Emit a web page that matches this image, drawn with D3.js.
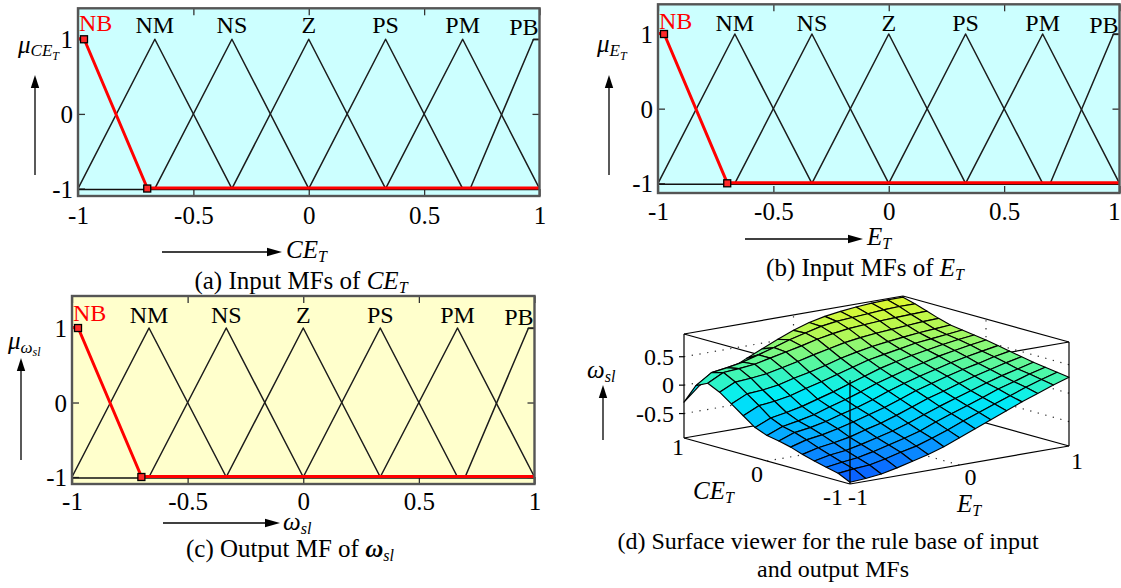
<!DOCTYPE html>
<html>
<head>
<meta charset="utf-8">
<title>Fuzzy membership functions and rule surface</title>
<script src="https://cdn.jsdelivr.net/npm/d3@7/dist/d3.min.js"></script>
<style>
  html, body { margin: 0; padding: 0; background: #ffffff; }
  svg { display: block; }
  text { font-family: "Liberation Serif", "Times New Roman", Times, serif; fill: #000; }
</style>
</head>
<body>
<svg id="fig" width="1121" height="588" viewBox="0 0 1121 588"></svg>
<script>
// ---------- membership functions (same partition for CE_T, E_T and omega_sl) ----------
const mfNames   = ["NB", "NM", "NS", "Z", "PS", "PM", "PB"];
const mfCenters = [-1, -0.667, -0.333, 0, 0.333, 0.667, 1];
const mfBreakX = [
  [-1, -0.974, -0.70, 1],
  [-1, -0.667, -0.333],
  [-0.667, -0.333, 0],
  [-0.333, 0, 0.333],
  [0, 0.333, 0.667],
  [0.333, 0.667, 1],
  [0.70, 0.974, 1]
];
const mfBreakY = [
  [1, 1, -1, -1],
  [-1, 1, -1],
  [-1, 1, -1],
  [-1, 1, -1],
  [-1, 1, -1],
  [-1, 1, -1],
  [-1, 1, 1]
];
const highlightedMF = 0;          // NB is the selected function
const handleIdx = [1, 2];         // its editable breakpoints
const universeTicks = [-1, -0.5, 0, 0.5, 1];
const gradeTicks = [-1, 0, 1];
const gradeFloor = -1;

// ---------- rule-base surface omega_sl(CE_T, E_T) ----------
const ceGrid = [-1, -0.857, -0.714, -0.571, -0.429, -0.286, -0.143, 0, 0.143, 0.286, 0.429, 0.571, 0.714, 0.857, 1];
const eGrid  = [-1, -0.857, -0.714, -0.571, -0.429, -0.286, -0.143, 0, 0.143, 0.286, 0.429, 0.571, 0.714, 0.857, 1];
// rows: CE_T from -1 to 1, columns: E_T from -1 to 1
const omegaSurface = [
  [-0.90,-0.88,-0.85,-0.79,-0.72,-0.65,-0.56,-0.45,-0.34,-0.23,-0.12,-0.01,0.09,0.19,0.28],
  [-0.80,-0.77,-0.75,-0.69,-0.62,-0.56,-0.47,-0.37,-0.26,-0.16,-0.06,0.04,0.14,0.23,0.31],
  [-0.75,-0.71,-0.68,-0.62,-0.55,-0.48,-0.40,-0.29,-0.19,-0.10,0.00,0.10,0.18,0.27,0.34],
  [-0.70,-0.64,-0.61,-0.55,-0.48,-0.41,-0.32,-0.22,-0.12,-0.03,0.06,0.15,0.23,0.30,0.37],
  [-0.64,-0.57,-0.53,-0.48,-0.40,-0.33,-0.24,-0.14,-0.04,0.04,0.13,0.21,0.28,0.35,0.41],
  [-0.57,-0.49,-0.45,-0.39,-0.32,-0.24,-0.16,-0.06,0.04,0.12,0.20,0.27,0.33,0.40,0.45],
  [-0.52,-0.42,-0.38,-0.32,-0.24,-0.17,-0.08,0.02,0.11,0.19,0.26,0.33,0.39,0.44,0.49],
  [-0.48,-0.37,-0.32,-0.26,-0.17,-0.09,0.00,0.10,0.18,0.26,0.32,0.39,0.44,0.49,0.53],
  [-0.40,-0.28,-0.23,-0.17,-0.09,-0.01,0.08,0.17,0.26,0.33,0.39,0.44,0.49,0.53,0.56],
  [-0.25,-0.12,-0.09,-0.04,0.04,0.11,0.19,0.27,0.35,0.40,0.45,0.50,0.53,0.56,0.59],
  [-0.10,0.03,0.05,0.09,0.16,0.22,0.29,0.37,0.43,0.48,0.52,0.55,0.58,0.60,0.62],
  [0.05,0.18,0.20,0.23,0.29,0.35,0.42,0.48,0.54,0.58,0.61,0.63,0.65,0.67,0.68],
  [0.15,0.29,0.31,0.34,0.40,0.46,0.52,0.59,0.64,0.68,0.70,0.72,0.73,0.74,0.75],
  [0.05,0.23,0.27,0.32,0.40,0.48,0.57,0.64,0.71,0.75,0.77,0.79,0.81,0.82,0.82],
  [-0.30,-0.05,0.05,0.15,0.28,0.40,0.52,0.63,0.72,0.78,0.82,0.85,0.87,0.88,0.88]
];
const surfTicksZ  = [-0.5, 0, 0.5];
const surfTicksCE = [1, 0, -1];
const surfTicksE  = [-1, 0, 1];

// ---------------------------------------------------------------------------
const svg = d3.select("#fig");
const FIG_W = 1121;

function richText(parent, x, y, parts, anchor) {
  const t = parent.append("text").attr("x", x).attr("y", y)
    .attr("text-anchor", anchor || "start");
  parts.forEach(p => {
    t.append("tspan").text(p.t)
      .attr("font-size", p.size)
      .attr("dy", p.dy || 0)
      .attr("font-style", p.italic ? "italic" : "normal")
      .attr("font-weight", p.bold ? "bold" : "normal");
  });
  return t;
}

function arrow(g, x1, y1, x2, y2, headLen, headHalf) {
  headLen = headLen || 14; headHalf = headHalf || 4.5;
  const ang = Math.atan2(y2 - y1, x2 - x1);
  const bx = x2 - headLen * Math.cos(ang), by = y2 - headLen * Math.sin(ang);
  g.append("line").attr("x1", x1).attr("y1", y1).attr("x2", bx).attr("y2", by)
    .attr("stroke", "#000").attr("stroke-width", 1.3);
  const px = -Math.sin(ang) * headHalf, py = Math.cos(ang) * headHalf;
  g.append("path").attr("d", `M${x2},${y2}L${bx + px},${by + py}L${bx - px},${by - py}Z`)
    .attr("fill", "#000");
}

// ---------- the three membership-function panels ----------
const mfPanels = [
  { x0: 78, x1: 539.5, y0: 8.3, y1: 196, yDom: [-1.1, 1.415], bg: "#ccffff",
    nameBase: 33, tickBase: 224,
    yArrow: [35, 175, 75], xArrow: [162, 282, 252],
    yLab: { x: 18, y: 53, parts: [{t: "μ", size: 25, italic: true}, {t: "CE", size: 17, italic: true, dy: 3}, {t: "T", size: 12, italic: true, dy: 4}] },
    xLab: { x: 286, y: 258, parts: [{t: "CE", size: 25, italic: true}, {t: "T", size: 16, italic: true, dy: 4}] },
    cap:  { x: 301, y: 289, parts: [{t: "(a) Input MFs of ", size: 25}, {t: "CE", size: 25, italic: true}, {t: "T", size: 16, italic: true, dy: 4}] } },
  { x0: 658, x1: 1119.5, y0: 4.3, y1: 193, yDom: [-1.13, 1.398], bg: "#ccffff",
    nameBase: 31, tickBase: 220,
    yArrow: [609, 175, 75], xArrow: [745, 863, 239],
    yLab: { x: 597, y: 52, parts: [{t: "μ", size: 25, italic: true}, {t: "E", size: 17, italic: true, dy: 4}, {t: "T", size: 12, italic: true, dy: 4}] },
    xLab: { x: 867, y: 245, parts: [{t: "E", size: 25, italic: true}, {t: "T", size: 16, italic: true, dy: 4}] },
    cap:  { x: 865, y: 276, parts: [{t: "(b) Input MFs of ", size: 25}, {t: "E", size: 25, italic: true}, {t: "T", size: 16, italic: true, dy: 4}] } },
  { x0: 72, x1: 534.5, y0: 296, y1: 484, yDom: [-1.094, 1.43], bg: "#ffffcc",
    nameBase: 323, tickBase: 510,
    yArrow: [21, 460, 358], xArrow: [163, 280, 523],
    yLab: { x: 8, y: 349, parts: [{t: "μ", size: 25, italic: true}, {t: "ω", size: 17, italic: true, dy: 4}, {t: "sl", size: 12, italic: true, dy: 3}] },
    xLab: { x: 283, y: 530, parts: [{t: "ω", size: 25, italic: true}, {t: "sl", size: 16, italic: true, dy: 4}] },
    cap:  { x: 290, y: 557, parts: [{t: "(c) Output MF of ", size: 25}, {t: "ω", size: 25, italic: true, bold: true}, {t: "sl", size: 16, italic: true, dy: 4}] } }
];

function styleTicks(sel) {
  sel.select(".domain").remove();
  sel.selectAll(".tick line").attr("stroke", "#333").attr("stroke-width", 1.3);
}

function drawMFPanel(p) {
  const g = svg.append("g");
  const x = d3.scaleLinear().domain([-1, 1]).range([p.x0, p.x1]);
  const y = d3.scaleLinear().domain(p.yDom).range([p.y1, p.y0]);

  g.append("rect").attr("x", p.x0).attr("y", p.y0)
    .attr("width", p.x1 - p.x0).attr("height", p.y1 - p.y0).attr("fill", p.bg);

  // inward tick marks on all four sides
  g.append("g").attr("transform", `translate(0,${p.y1})`)
    .call(d3.axisTop(x).tickValues(universeTicks).tickSize(7).tickFormat("")).call(styleTicks);
  g.append("g").attr("transform", `translate(0,${p.y0})`)
    .call(d3.axisBottom(x).tickValues(universeTicks).tickSize(7).tickFormat("")).call(styleTicks);
  g.append("g").attr("transform", `translate(${p.x0},0)`)
    .call(d3.axisRight(y).tickValues(gradeTicks).tickSize(7).tickFormat("")).call(styleTicks);
  g.append("g").attr("transform", `translate(${p.x1},0)`)
    .call(d3.axisLeft(y).tickValues(gradeTicks).tickSize(7).tickFormat("")).call(styleTicks);

  // grade floor
  g.append("line").attr("x1", x(-1)).attr("x2", x(1))
    .attr("y1", y(gradeFloor) + 1).attr("y2", y(gradeFloor) + 1)
    .attr("stroke", "#111").attr("stroke-width", 1.4);

  const line = d3.line().x(d => x(d[0])).y(d => y(d[1]));
  const pts = k => mfBreakX[k].map((v, m) => [v, mfBreakY[k][m]]);

  mfNames.forEach((n, k) => {
    if (k === highlightedMF) return;
    g.append("path").attr("d", line(pts(k))).attr("fill", "none")
      .attr("stroke", "#1c1c1c").attr("stroke-width", 1.5).attr("stroke-linejoin", "round");
  });
  g.append("path").attr("d", line(pts(highlightedMF))).attr("fill", "none")
    .attr("transform", "translate(0,-0.5)")
    .attr("stroke", "#ff0000").attr("stroke-width", 3).attr("stroke-linejoin", "round");
  g.selectAll("rect.handle").data(handleIdx).join("rect").attr("class", "handle")
    .attr("x", i => x(mfBreakX[highlightedMF][i]) - 3.5)
    .attr("y", i => y(mfBreakY[highlightedMF][i]) - 3.5)
    .attr("width", 7).attr("height", 7)
    .attr("fill", "#ff2a2a").attr("stroke", "#000").attr("stroke-width", 1.3);

  // frame
  g.append("rect").attr("x", p.x0).attr("y", p.y0)
    .attr("width", p.x1 - p.x0).attr("height", p.y1 - p.y0)
    .attr("fill", "none").attr("stroke", "#555").attr("stroke-width", 2.4);

  // MF names
  g.selectAll("text.mfname").data(mfNames).join("text").attr("class", "mfname")
    .attr("font-size", 24)
    .style("fill", (d, k) => k === highlightedMF ? "#ff0000" : "#000")
    .attr("text-anchor", (d, k) => k === 0 ? "start" : (k === mfNames.length - 1 ? "end" : "middle"))
    .attr("x", (d, k) => k === 0 ? p.x0 + 1 : (k === mfNames.length - 1 ? p.x1 - 1 : x(mfCenters[k])))
    .attr("y", (d, k) => p.nameBase + (k === 0 ? -2 : (k === mfNames.length - 1 ? 2 : 0)))
    .text(d => d);

  // tick labels
  const bx = g.append("g").attr("transform", `translate(0,${p.tickBase})`)
    .call(d3.axisBottom(x).tickValues(universeTicks).tickSize(0).tickFormat(d => String(d)));
  bx.select(".domain").remove();
  bx.attr("font-family", null).attr("font-size", null);
  bx.selectAll("text").attr("y", 0).attr("dy", 0).attr("font-size", 25)
    .each(function (d) {
      // keep the rightmost label inside the figure
      if (x(d) + 7 > FIG_W) {
        d3.select(this).attr("text-anchor", "end").attr("x", FIG_W - 1 - x(d));
      }
    });

  const ly = g.append("g").attr("transform", `translate(${p.x0 - 5},0)`)
    .call(d3.axisLeft(y).tickValues(gradeTicks).tickSize(0).tickPadding(0).tickFormat(d => String(d)));
  ly.select(".domain").remove();
  ly.attr("font-family", null).attr("font-size", null);
  ly.selectAll("text").attr("dy", "0.34em").attr("font-size", 25);

  // axis captions and arrows
  richText(g, p.yLab.x, p.yLab.y, p.yLab.parts);
  arrow(g, p.yArrow[0], p.yArrow[1], p.yArrow[0], p.yArrow[2], 13, 4.2);
  arrow(g, p.xArrow[0], p.xArrow[2], p.xArrow[1], p.xArrow[2], 15, 4.2);
  richText(g, p.xLab.x, p.xLab.y, p.xLab.parts);
  richText(g, p.cap.x, p.cap.y, p.cap.parts, "middle");
}
mfPanels.forEach(drawMFPanel);

// ---------- (d) surface viewer ----------
(function drawSurface() {
  const g = svg.append("g");
  const S = { O: [850, 484], U: [-166, -46], V: [219, -38], H: 104, zMin: -0.93, zMax: 0.9 };
  const cf = d3.scaleLinear().domain([-1, 1]).range([0, 1]);
  const ef = d3.scaleLinear().domain([-1, 1]).range([0, 1]);
  const zh = d3.scaleLinear().domain([S.zMin, S.zMax]).range([0, S.H]);
  const proj = (c, e, z) => {
    const a = cf(c), b = ef(e);
    return [S.O[0] + a * S.U[0] + b * S.V[0], S.O[1] + a * S.U[1] + b * S.V[1] - zh(z)];
  };
  const groundY = (c, e) => S.O[1] + cf(c) * S.U[1] + ef(e) * S.V[1];
  const color = d3.scaleLinear()
    .domain([-0.9, -0.6, -0.3, 0, 0.3, 0.6, 0.9])
    .range(["#0a58ff", "#0a8eff", "#00c6ff", "#00eef6", "#50f8a6", "#aef85a", "#e2f82a"])
    .clamp(true);
  const seg = (a, b, stroke, w, dash) => {
    const p = proj(...a), q = proj(...b);
    g.append("line").attr("x1", p[0]).attr("y1", p[1]).attr("x2", q[0]).attr("y2", q[1])
      .attr("stroke", stroke).attr("stroke-width", w).attr("stroke-dasharray", dash || null);
  };
  const lo = S.zMin, hi = S.zMax;

  // dotted grid on the back walls and on the floor
  const dot = "1.3,6.5";
  surfTicksZ.forEach(z => {
    seg([1, -1, z], [1, 1, z], "#333", 1.2, dot);
    seg([-1, 1, z], [1, 1, z], "#333", 1.2, dot);
  });
  seg([0, -1, lo], [0, 1, lo], "#333", 1.2, dot);
  seg([-1, 0, lo], [1, 0, lo], "#333", 1.2, dot);
  seg([1, 0, lo], [1, 0, hi], "#333", 1.2, dot);
  seg([0, 1, lo], [0, 1, hi], "#333", 1.2, dot);

  // box edges (all but the nearest vertical)
  const corners = [[-1, -1], [1, -1], [1, 1], [-1, 1]];
  [lo, hi].forEach(z => {
    corners.forEach((c, k) => {
      const d = corners[(k + 1) % 4];
      seg([c[0], c[1], z], [d[0], d[1], z], "#000", 1.2);
    });
  });
  [[1, -1], [1, 1], [-1, 1]].forEach(c => seg([c[0], c[1], lo], [c[0], c[1], hi], "#000", 1.2));

  // surface facets, far ones first
  const faces = [];
  for (let i = 0; i < ceGrid.length - 1; i++) {
    for (let j = 0; j < eGrid.length - 1; j++) {
      const idx = [[i, j], [i + 1, j], [i + 1, j + 1], [i, j + 1]];
      const pts = idx.map(([a, b]) => proj(ceGrid[a], eGrid[b], omegaSurface[a][b]));
      const z = d3.mean(idx, ([a, b]) => omegaSurface[a][b]);
      const depth = groundY((ceGrid[i] + ceGrid[i + 1]) / 2, (eGrid[j] + eGrid[j + 1]) / 2);
      faces.push({ pts, z, depth });
    }
  }
  faces.sort((a, b) => a.depth - b.depth);
  g.append("g").selectAll("path").data(faces).join("path")
    .attr("d", f => "M" + f.pts.map(p => p.join(",")).join("L") + "Z")
    .attr("fill", f => color(f.z))
    .attr("stroke", "#000").attr("stroke-width", 1.15).attr("stroke-linejoin", "round");

  // nearest vertical edge stays in front
  seg([-1, -1, lo], [-1, -1, hi], "#000", 1.3);

  // z ticks and labels on the left vertical edge
  surfTicksZ.forEach(z => {
    const p = proj(1, -1, z);
    g.append("line").attr("x1", p[0] - 5).attr("x2", p[0]).attr("y1", p[1]).attr("y2", p[1])
      .attr("stroke", "#000").attr("stroke-width", 1.2);
    g.append("text").attr("x", p[0] - 10).attr("y", p[1]).attr("dy", "0.34em")
      .attr("text-anchor", "end").attr("font-size", 24).text(String(z));
  });
  // CE_T labels along the front-left floor edge, E_T labels along the front-right one
  const ceOff = [[-6, 17], [-10, 21], [-17, 21]];
  surfTicksCE.forEach((c, k) => {
    const p = proj(c, -1, lo);
    g.append("text").attr("x", p[0] + ceOff[k][0]).attr("y", p[1] + ceOff[k][1])
      .attr("text-anchor", "middle").attr("font-size", 24).text(String(c));
  });
  const eOff = [[8, 21], [11, 20], [8, 23]];
  surfTicksE.forEach((e, k) => {
    const p = proj(-1, e, lo);
    g.append("text").attr("x", p[0] + eOff[k][0]).attr("y", p[1] + eOff[k][1])
      .attr("text-anchor", "middle").attr("font-size", 24).text(String(e));
  });
  richText(g, 693, 499, [{t: "CE", size: 25, italic: true}, {t: "T", size: 16, italic: true, dy: 4}]);
  richText(g, 957, 512, [{t: "E", size: 25, italic: true}, {t: "T", size: 16, italic: true, dy: 4}]);
  richText(g, 587, 378, [{t: "ω", size: 25, italic: true}, {t: "sl", size: 16, italic: true, dy: 4}]);
  arrow(g, 603, 440, 603, 385, 13, 4.2);
  richText(g, 828, 549, [{t: "(d) Surface viewer for the rule base of input", size: 24}], "middle");
  richText(g, 833, 577, [{t: "and output MFs", size: 24}], "middle");
})();
</script>
</body>
</html>
